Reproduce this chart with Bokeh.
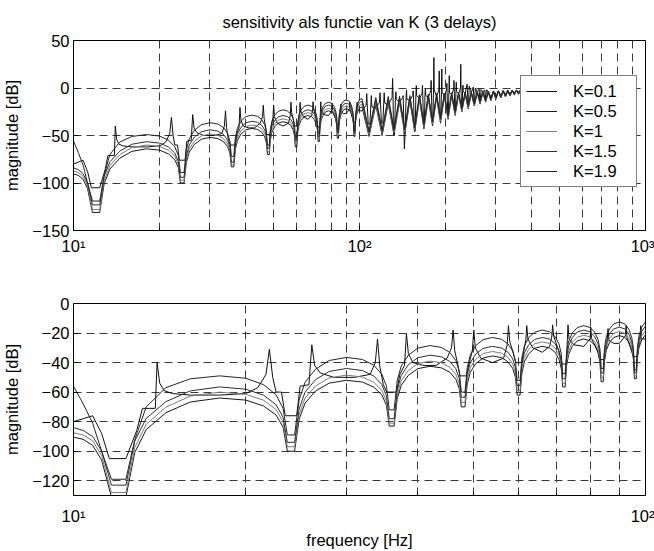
from bokeh.plotting import figure
from bokeh.layouts import column
from bokeh.models import Range1d, FixedTicker, Legend, LegendItem
from bokeh.embed import file_html
from bokeh.resources import INLINE

# ---------------- data ----------------
# shared frequency grid of the four "arc" curves, 10-102 Hz (fine) and 108-500 Hz (coarse)
f_arc_lo = [10.0, 10.4, 10.8, 11.2, 11.65,
            12.35, 12.8, 13.4, 14.5, 16.0, 18.0, 20.0, 21.5, 22.6, 23.25, 23.65,
            24.35, 24.8, 25.4, 26.5, 28.0, 30.0, 32.0, 33.5, 34.6, 35.25, 35.65,
            36.35, 36.8, 37.4, 38.5, 40.0, 42.0, 44.0, 45.5, 46.6, 47.25, 47.65,
            48.35, 48.8, 49.4, 50.5, 52.0, 54.0, 56.0, 57.5, 58.6, 59.25, 59.65,
            60.35, 60.8, 61.4, 62.5, 64.0, 66.0, 68.0, 69.5, 70.6, 71.25, 71.65,
            72.35, 72.8, 73.4, 74.5, 76.0, 78.0, 80.0, 81.5, 82.6, 83.25, 83.65,
            84.35, 84.8, 85.4, 86.5, 88.0, 90.0, 92.0, 93.5, 94.6, 95.25, 95.65,
            96.35, 96.8, 97.4, 98.5, 100.0, 102.0]
f_arc_hi = [108, 114, 120, 126, 132, 138, 144, 150, 156, 162, 168, 174, 180, 186, 192, 198,
            204, 210, 216, 222, 228, 234, 240, 246, 252, 258, 264, 270, 276, 282, 288, 294,
            300, 306, 312, 318, 324, 330, 336, 342, 348, 354, 360, 366, 372, 378, 384, 390,
            396, 402, 408, 414, 420, 426, 432, 438, 444, 450, 456, 462, 468, 474, 480, 486,
            492, 498, 500]

s_k19_lo = [-56, -68, -81, -100, -119,
            -119, -92, -70, -57, -51, -49, -50.6, -55, -61.8, -71, -89,
            -89, -65.4, -53.3, -44.4, -38.6, -36.5, -37.9, -41.8, -47.9, -56, -72,
            -72, -52.4, -42.4, -35, -30.2, -28.5, -29.8, -33.2, -38.6, -45.8, -60,
            -60, -43.4, -34.8, -28.5, -24.5, -23, -24.2, -27.4, -32.3, -39, -52,
            -52, -36.7, -28.9, -23.1, -19.4, -18, -19.2, -22.4, -27.4, -34.2, -47.5,
            -47.5, -32.9, -25.4, -19.9, -16.3, -15, -16.2, -19.4, -24.3, -31, -44,
            -44, -29.8, -22.6, -17.2, -13.8, -12.5, -13.8, -17.4, -22.9, -30.4, -45,
            -45, -29.7, -21.9, -16.1, -12.4, -11]
s_k19_hi = [-45, -10, -44, -9, -43, -8.5, -42, -8, -40, -7, -37, -6.5, -34, -6, -31, -5.5,
            -28, -5, -24, -4.6, -21, -4.3, -18, -4, -16, -3.7, -14, -3.5, -12.5, -3.2, -11, -3,
            -10, -2.8, -9, -2.6, -8, -2.4, -7, -2.2, -6, -2, -5.5, -1.8, -5, -1.6, -4.5, -1.5,
            -4, -1.3, -3.5, -1.2, -3, -1, -2.6, -0.9, -2.2, -0.8, -1.9, -0.6, -1.6, -0.5, -1.3, -0.4,
            -1, -0.3, -0.2]

s_k15_lo = [-84, -86, -90, -100, -123,
            -123, -93.1, -77.8, -66.5, -59.2, -56.5, -58, -62.1, -68.5, -77.1, -94,
            -94, -71.5, -60, -51.5, -46, -44, -45.4, -49.1, -54.9, -62.7, -78,
            -78, -58.7, -48.8, -41.4, -36.7, -35, -36.1, -39.3, -44.1, -50.7, -63.5,
            -63.5, -48, -40, -34.2, -30.4, -29, -30.1, -33, -37.5, -43.6, -55.5,
            -55.5, -40.9, -33.4, -27.9, -24.3, -23, -24.1, -27.2, -32, -38.4, -51,
            -51, -36.2, -28.6, -23, -19.3, -18, -19.2, -22.3, -27.3, -34, -47,
            -47, -33, -25.9, -20.6, -17.2, -16, -17.2, -20.6, -25.9, -33, -47,
            -47, -32.2, -24.6, -19, -15.3, -14]
s_k15_hi = [-47, -13, -46, -12, -45, -11, -44, -10, -42, -9, -39, -8, -36, -7.5, -33, -7,
            -30, -6.3, -26, -5.7, -22.5, -5.2, -19.5, -4.8, -17, -4.4, -15, -4.1, -13.5, -3.8, -12, -3.5,
            -10.5, -3.2, -9.5, -3, -8.5, -2.8, -7.5, -2.5, -6.5, -2.3, -6, -2.1, -5.3, -1.9, -4.8, -1.7,
            -4.2, -1.5, -3.7, -1.4, -3.2, -1.2, -2.8, -1, -2.4, -0.9, -2, -0.7, -1.7, -0.6, -1.4, -0.5,
            -1.1, -0.4, -0.3]

s_k1_lo = [-87.5, -89, -93, -103, -128,
           -128, -97.4, -81.8, -70.2, -62.7, -60, -61.5, -65.5, -71.8, -80.3, -97,
           -97, -75.2, -64, -55.8, -50.4, -48.5, -49.8, -53.4, -58.9, -66.4, -81,
           -81, -62.1, -52.4, -45.3, -40.7, -39, -40.1, -43.2, -48, -54.4, -67,
           -67, -51.5, -43.5, -37.7, -33.9, -32.5, -33.6, -36.5, -41, -47.1, -59,
           -59, -44.2, -36.6, -31, -27.3, -26, -27.1, -30.2, -35, -41.4, -54,
           -54, -39.4, -31.9, -26.4, -22.8, -21.5, -22.6, -25.8, -30.6, -37.2, -50,
           -50, -36, -28.9, -23.6, -20.2, -19, -20.2, -23.5, -28.6, -35.5, -49,
           -49, -34.6, -27.2, -21.8, -18.3, -17]
s_k1_hi = [-49, -15.5, -48, -14, -47, -13, -46, -12, -44, -10.5, -41, -9.5, -38, -8.5, -35, -8,
           -32, -7.2, -28, -6.5, -24, -6, -21, -5.4, -18, -5, -16, -4.6, -14.5, -4.2, -13, -3.9,
           -11.5, -3.6, -10, -3.3, -9, -3, -8, -2.8, -7, -2.5, -6.3, -2.3, -5.6, -2.1, -5, -1.9,
           -4.4, -1.7, -3.9, -1.5, -3.4, -1.3, -2.9, -1.1, -2.5, -1, -2.1, -0.8, -1.8, -0.7, -1.5, -0.6,
           -1.2, -0.4, -0.3]

s_k05_lo = [-90.5, -92, -96, -106, -131,
            -131, -100.8, -85.4, -74, -66.7, -64, -65.4, -69.4, -75.5, -83.8, -100,
            -100, -78.4, -67.4, -59.2, -53.9, -52, -53.2, -56.6, -61.9, -69, -83,
            -83, -64.8, -55.5, -48.6, -44.1, -42.5, -43.6, -46.6, -51.3, -57.6, -70,
            -70, -54.5, -46.5, -40.7, -36.9, -35.5, -36.6, -39.5, -44, -50.1, -62,
            -62, -47.2, -39.6, -34, -30.3, -29, -30.1, -33.1, -37.8, -44.1, -56.5,
            -56.5, -41.9, -34.4, -28.9, -25.3, -24, -25.2, -28.3, -33.3, -40, -53,
            -53, -38.9, -31.7, -26.4, -23, -21.7, -22.9, -26.1, -31.1, -37.8, -51,
            -51, -37, -29.9, -24.6, -21.2, -20]
s_k05_hi = [-51, -18, -50, -16.5, -49, -15, -48, -13.5, -46, -12, -43, -11, -40, -10, -37, -9,
            -33, -8, -29, -7.2, -25, -6.5, -22, -5.9, -19, -5.4, -17, -5, -15, -4.6, -13.5, -4.2,
            -12, -3.9, -10.5, -3.6, -9.5, -3.3, -8.5, -3, -7.5, -2.7, -6.6, -2.5, -5.9, -2.3, -5.2, -2,
            -4.6, -1.8, -4, -1.6, -3.5, -1.4, -3, -1.2, -2.6, -1.1, -2.2, -0.9, -1.9, -0.8, -1.6, -0.6,
            -1.3, -0.5, -0.4]

# the curve with the sharp resonance spikes (K=0.1)
f_k01_lo = [10.0, 10.4, 10.8, 11.2, 11.55, 12.35, 12.9, 13.2, 13.9, 14.0, 14.15, 14.4, 14.9,
            16.0, 18.0, 20.0, 21.0, 21.7, 22.0, 22.3, 22.6, 23.1, 23.45, 24.55, 24.9, 25.8,
            26.1, 26.4, 27.0, 28.5, 31.0, 33.0, 33.7, 34.0, 34.3, 34.8, 35.3, 36.7, 37.2,
            37.9, 38.2, 38.5, 39.2, 41.0, 43.0, 45.0, 45.8, 46.1, 46.4, 46.9, 47.4, 48.6,
            49.2, 49.8, 50.1, 50.4, 51.5, 54.0, 56.5, 57.3, 57.6, 57.9, 58.6, 59.3, 60.7,
            61.3, 61.8, 62.0, 62.3, 63.5, 66.0, 68.0, 68.6, 68.8, 69.1, 70.5, 71.3, 72.7,
            73.0, 73.2, 73.5, 75.0, 78.0, 80.0, 80.2, 80.5, 82.5, 83.3, 84.7, 85.6, 86.0,
            86.3, 88.0, 90.0, 92.2, 92.5, 92.8, 95.3, 96.7, 97.8, 98.1, 98.4, 100.0]
s_k01_lo = [-80, -78, -76, -88, -105, -105, -86, -71, -71, -40, -54, -59, -61,
            -62, -62, -61, -57, -48, -31, -50, -60, -60, -76, -76, -56, -55,
            -28, -42, -47, -50, -50, -48, -40, -24, -42, -55, -60, -60, -48,
            -42, -20.5, -34, -40, -42, -42, -37, -30, -18, -32, -40, -49, -49,
            -40, -32, -18, -30, -37, -40, -37, -28, -15, -26, -32, -40, -40,
            -32, -24, -15, -24, -30, -33, -29, -22, -14.5, -22, -32, -41, -41,
            -25, -14.5, -24, -28, -29, -24, -16, -24, -32, -38, -38, -28, -17,
            -25, -27, -27, -22, -15, -23, -36, -36, -25, -15, -24, -24]
f_k01_hi = [102, 105.5, 106, 106.5, 107.3, 108.7, 109.5, 110, 110.5, 114,
            117.5, 118, 118.5, 119.3, 120.7, 121.5, 122, 122.5, 126,
            130, 130.5, 131, 131.5, 132.5, 133.5, 134, 134.5, 138,
            141.5, 142, 142.5, 143.5, 144.5, 145.5, 146, 146.5, 150,
            153.5, 154, 154.5, 155.5, 156.5, 157.5, 158, 158.5, 162,
            165.5, 166, 166.5, 167.5, 168.5, 169.5, 170, 170.5, 174,
            177.5, 178, 178.5, 179.5, 180.5, 181.5, 182, 182.5, 186,
            189.5, 190, 190.5, 191.5, 192.5, 193.5, 194, 194.5, 198,
            201.5, 202, 202.5, 203.5, 204.5, 205.5, 206, 206.5, 210,
            213.5, 214, 214.5, 215.5, 216.5, 217.5, 218, 218.5, 222,
            225.5, 226, 226.5, 227.5, 228.5, 229.5, 230, 230.5, 234,
            238, 239.5, 240.5, 242, 246,
            250, 251.5, 252.5, 254, 258,
            262, 263.5, 264.5, 266, 270,
            274, 276, 278, 282,
            288, 294, 300, 306, 312, 318, 324, 330, 336, 342, 348, 354, 360, 366, 372, 378,
            384, 390, 396, 402, 408, 414, 420, 426, 432, 438, 444, 450, 456, 462, 468, 474,
            480, 486, 492, 498, 500]
s_k01_hi = [-24, -18, -6, -20, -38, -38, -20, -8, -20, -21,
            -15, -5, -17, -37, -37, -16, -5, -16, -18,
            -10, 10, -8, -50, -50, -12, -4, -12, -15,
            -10, -8, -20, -64, -45, -10, -2, -12, -13,
            -8, -3, -10, -45, -45, -6, 2.6, -8, -11,
            -6, 3, -8, -40, -40, -5, 0, -8, -10,
            -3, 8, -6, -36, -36, 0, 32, -2, -9,
            -2, 18, -4, -32, -32, -4, 20, -5, -8,
            -2, 5, -5, -28, -28, -2, 13, -5, -7,
            -1, 8, -4, -24, -24, -1, 6, -4, -6,
            0, 25, -3, -20, -20, -1, 3, -4, -5.5,
            4, -17, -17, 2, -5,
            1, -15, -15, 0, -4.5,
            -1, -13, -13, -1.5, -4,
            -2, -11.5, -2, -3.5,
            -10, -3.2, -9, -3, -8, -2.8, -7, -2.6, -6, -2.4, -5, -2.2, -4.5, -2, -4, -1.8,
            -3.5, -1.6, -3, -1.4, -2.6, -1.2, -2.2, -1, -1.9, -0.9, -1.6, -0.8, -1.3, -0.6, -1, -0.5,
            -0.8, -0.4, -0.6, -0.3, -0.2]

labels = ["K=0.1", "K=0.5", "K=1", "K=1.5", "K=1.9"]
colors = ["#111111", "#1a1a1a", "#7c7c7c", "#303030", "#262626"]

top_yticks = [-150, -100, -50, 0, 50]
bot_yticks = [-120, -100, -80, -60, -40, -20, 0]
top_xticks = [10, 100, 1000]
top_xminor = [20, 30, 40, 50, 60, 70, 80, 90, 200, 300, 400, 500, 600, 700, 800, 900]
bot_xticks = [10, 100]
bot_xminor = [20, 30, 40, 50, 60, 70, 80, 90]
xtick_text = {10: "10\u00b9", 100: "10\u00b2", 1000: "10\u00b3"}

# ---------------- build series ----------------
f_arc = f_arc_lo + f_arc_hi
f_k01 = f_k01_lo + f_k01_hi
series = [
    (f_k01, s_k01_lo + s_k01_hi),
    (f_arc, s_k05_lo + s_k05_hi),
    (f_arc, s_k1_lo + s_k1_hi),
    (f_arc, s_k15_lo + s_k15_hi),
    (f_arc, s_k19_lo + s_k19_hi),
]
for fx, fy in series:
    assert len(fx) == len(fy), (len(fx), len(fy))

FONT = "Liberation Sans"
FS = "16.5px"
GRID = "#3a3a3a"
DASH = "8 5"


def make_fig(height, top, bottom, x_end, y0, y1, xt, xm, yt, xstand):
    p = figure(width=654, height=height, x_axis_type="log",
               x_range=Range1d(10, x_end), y_range=Range1d(y0, y1),
               output_backend="svg", toolbar_location=None,
               min_border_left=71, min_border_right=9,
               min_border_top=top, min_border_bottom=bottom)
    p.background_fill_color = "white"
    p.border_fill_color = "white"
    p.outline_line_color = "black"
    p.outline_line_width = 1
    xtk = FixedTicker(ticks=xt, minor_ticks=xm)
    ytk = FixedTicker(ticks=yt)
    p.xaxis.ticker = xtk
    p.yaxis.ticker = ytk
    p.xgrid.ticker = xtk
    p.ygrid.ticker = ytk
    p.xaxis.major_label_overrides = {k: v for k, v in xtick_text.items() if k in xt}
    for ax in (p.xaxis, p.yaxis):
        ax.axis_line_color = "black"
        ax.major_tick_in = 5
        ax.major_tick_out = 0
        ax.major_tick_line_color = "black"
        ax.major_label_text_font = FONT
        ax.major_label_text_font_size = FS
        ax.major_label_text_color = "black"
        ax.axis_label_text_font = FONT
        ax.axis_label_text_font_size = FS
        ax.axis_label_text_font_style = "normal"
        ax.axis_label_text_color = "black"
    p.xaxis.minor_tick_in = 3
    p.xaxis.minor_tick_out = 0
    p.xaxis.minor_tick_line_color = "black"
    p.yaxis.minor_tick_line_color = None
    p.xaxis.major_label_standoff = xstand
    p.yaxis.major_label_standoff = 4
    p.yaxis.axis_label = "magnitude [dB]"
    p.yaxis.axis_label_standoff = 8
    for g in (p.xgrid, p.ygrid):
        g.grid_line_color = GRID
        g.grid_line_dash = DASH
        g.grid_line_width = 1
    p.xgrid.minor_grid_line_color = GRID
    p.xgrid.minor_grid_line_dash = DASH
    p.xgrid.minor_grid_line_width = 1
    return p


p1 = make_fig(265, 40, 35, 1000, -150, 50, top_xticks, top_xminor, top_yticks, 6)
p1.title.text = "sensitivity als functie van K (3 delays)"
p1.title.align = "center"
p1.title.text_font = FONT
p1.title.text_font_size = FS
p1.title.text_font_style = "normal"
p1.title.text_color = "black"
p1.title.standoff = 20

p2 = make_fig(286, 38, 56, 100, -130, 0, bot_xticks, bot_xminor, bot_yticks, 11)
p2.xaxis.axis_label = "frequency [Hz]"
p2.xaxis.axis_label_standoff = 3

items = []
for (fx, fy), lab, col in zip(series, labels, colors):
    r = p1.line(fx, fy, line_color=col, line_width=1)
    p2.line(fx, fy, line_color=col, line_width=1)
    items.append(LegendItem(label=lab, renderers=[r]))

leg = Legend(items=items, location=(447, 43), margin=0, padding=5, spacing=0,
             glyph_width=31, glyph_height=20, label_height=20, label_width=58,
             label_standoff=16, label_text_font=FONT, label_text_font_size=FS,
             label_text_color="black", border_line_color="black", border_line_width=1,
             background_fill_color="white", background_fill_alpha=1.0)
p1.add_layout(leg)

layout = column(p1, p2, spacing=0)
open("out.html", "w").write(file_html(layout, INLINE))
